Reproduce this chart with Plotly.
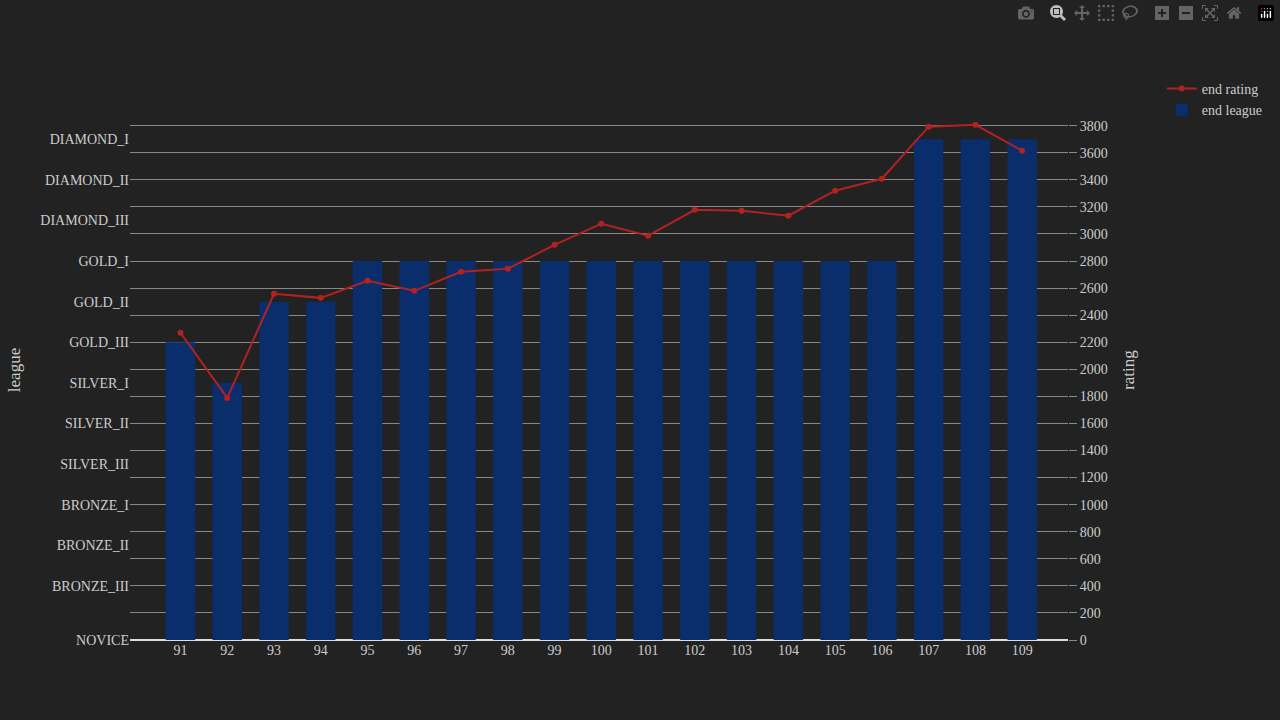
import plotly.graph_objects as go

seasons = list(range(91, 110))
league_names = ["NOVICE", "BRONZE_III", "BRONZE_II", "BRONZE_I", "SILVER_III", "SILVER_II", "SILVER_I",
                "GOLD_III", "GOLD_II", "GOLD_I", "DIAMOND_III", "DIAMOND_II", "DIAMOND_I"]
league_vals = [0, 400, 700, 1000, 1300, 1600, 1900, 2200, 2500, 2800, 3100, 3400, 3700]
end_league = [2200, 1900, 2500, 2500, 2800, 2800, 2800, 2800, 2800, 2800, 2800, 2800, 2800, 2800, 2800, 2800, 3700, 3700, 3700]
end_rating = [2270, 1789, 2558, 2528, 2654, 2580, 2721, 2743, 2920, 3076, 2987, 3179, 3172, 3135, 3320, 3408, 3793, 3807, 3615]

fig = go.Figure()
fig.add_trace(go.Scatter(x=seasons, y=end_rating, name="end rating", mode="lines+markers",
                         line=dict(color="#b22222", width=2), marker=dict(size=6), yaxis="y2"))
fig.add_trace(go.Bar(x=seasons, y=end_league, name="end league", marker_color="#0a2d6b",
                     marker_line_width=0, yaxis="y"))
fig.update_layout(
    width=1280, height=720,
    paper_bgcolor="#222222", plot_bgcolor="#222222",
    font=dict(family="Liberation Serif", color="#cccccc", size=14),
    margin=dict(l=130, r=205, t=100, b=80),
    bargap=0.37,
    showlegend=True,
    legend=dict(x=1.1, y=1.05, xanchor="left", yanchor="top", traceorder="normal"),
    xaxis=dict(range=[89.92, 109.98], tickvals=seasons, showgrid=False, zeroline=False),
    yaxis=dict(title=dict(text="league"), range=[0, 3990], tickvals=league_vals, ticktext=league_names,
               showgrid=False, zeroline=False, ticks="", side="left"),
    yaxis2=dict(title=dict(text="rating"), range=[0, 3990], overlaying="y", side="right", dtick=200,
                showgrid=True, gridcolor="#888888", zeroline=True, zerolinecolor="#dddddd", zerolinewidth=2,
                ticks="outside", ticklen=8, tickcolor="#888888"),
)
fig.write_html("out.html", post_script="document.body.style.margin='0';document.body.style.background='#222222';")
